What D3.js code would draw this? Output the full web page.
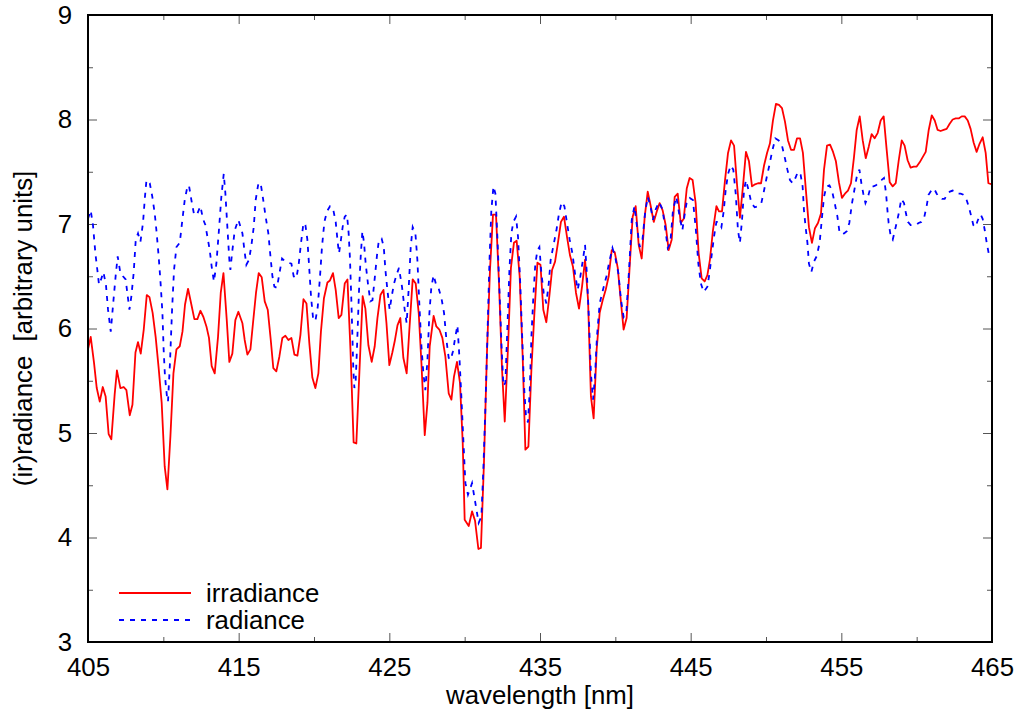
<!DOCTYPE html>
<html>
<head>
<meta charset="utf-8">
<script src="https://cdn.jsdelivr.net/npm/d3@7"></script>
<style>
  body { margin: 0; background: #fff; }
  text { font-family: "Liberation Sans", Arial, Helvetica, sans-serif; }
</style>
</head>
<body>
<script>
// wavelengths (nm) and values
var irrWl = [405.00,405.18,405.40,405.58,405.78,405.98,406.17,406.37,406.55,406.77,406.92,407.15,407.37,407.55,407.77,407.95,408.15,408.32,408.50,408.70,
  408.90,409.08,409.29,409.49,409.69,409.89,410.09,410.27,410.47,410.67,410.87,411.09,411.27,411.44,411.64,411.86,412.06,412.26,412.46,412.66,
  412.86,413.03,413.21,413.41,413.63,413.81,413.99,414.21,414.38,414.58,414.78,414.98,415.25,415.40,415.58,415.78,415.95,416.15,416.33,416.53,
  416.73,416.93,417.13,417.30,417.50,417.70,417.90,418.10,418.30,418.50,418.70,418.90,419.10,419.30,419.50,419.69,419.89,420.09,420.29,420.46,
  420.66,420.89,421.06,421.26,421.44,421.64,421.82,422.04,422.22,422.42,422.63,422.81,423.03,423.23,423.41,423.61,423.83,424.03,424.21,424.41,
  424.61,424.81,425.00,425.20,425.36,425.54,425.73,425.93,426.15,426.33,426.55,426.75,426.95,427.13,427.35,427.53,427.68,427.94,428.12,428.32,
  428.52,428.72,428.94,429.12,429.29,429.49,429.69,429.87,430.00,430.27,430.49,430.69,430.91,431.08,431.28,431.48,431.68,431.88,432.08,432.28,
  432.48,432.66,432.88,433.07,433.27,433.45,433.65,433.85,434.03,434.23,434.43,434.63,434.83,435.03,435.22,435.42,435.62,435.80,436.00,436.19,
  436.39,436.59,436.79,436.99,437.19,437.39,437.59,437.79,437.99,438.19,438.38,438.56,438.76,438.96,439.16,439.36,439.56,439.76,439.96,440.16,
  440.36,440.55,440.75,440.95,441.15,441.35,441.55,441.75,441.95,442.15,442.35,442.55,442.75,442.94,443.14,443.34,443.54,443.74,443.94,444.14,
  444.34,444.54,444.74,444.93,445.13,445.33,445.53,445.73,445.93,446.11,446.28,446.48,446.71,446.88,447.08,447.28,447.48,447.68,447.88,448.07,
  448.27,448.47,448.67,448.87,449.07,449.27,449.47,449.67,449.87,450.07,450.26,450.46,450.66,450.86,451.06,451.26,451.46,451.66,451.86,452.06,
  452.26,452.45,452.65,452.85,453.05,453.25,453.45,453.65,453.85,454.05,454.25,454.45,454.64,454.84,455.04,455.24,455.44,455.64,455.84,456.02,
  456.22,456.42,456.62,456.82,457.01,457.21,457.41,457.61,457.81,458.01,458.21,458.41,458.61,458.81,459.01,459.20,459.40,459.60,459.80,460.00,
  460.20,460.40,460.60,460.80,461.00,461.20,461.39,461.59,461.79,461.99,462.19,462.39,462.59,462.79,462.99,463.19,463.39,463.58,463.78,463.98,
  464.18,464.38,464.58,464.76,465.00];
var irrVal = [5.80,5.92,5.67,5.43,5.30,5.44,5.35,4.99,4.94,5.37,5.60,5.43,5.44,5.41,5.17,5.27,5.77,5.87,5.76,5.99,
  6.32,6.30,6.15,5.92,5.62,5.29,4.68,4.46,4.97,5.57,5.80,5.83,5.97,6.23,6.38,6.23,6.09,6.09,6.17,6.11,
  6.02,5.91,5.64,5.57,5.92,6.34,6.53,6.08,5.68,5.76,6.08,6.16,6.05,5.89,5.75,5.80,6.05,6.34,6.53,6.49,
  6.26,6.18,5.89,5.62,5.59,5.73,5.91,5.93,5.89,5.91,5.75,5.74,5.94,6.28,6.24,5.86,5.53,5.43,5.57,5.97,
  6.29,6.44,6.46,6.53,6.37,6.10,6.13,6.43,6.47,5.80,4.91,4.90,5.64,6.31,6.19,5.84,5.68,5.83,6.10,6.32,
  6.37,6.05,5.65,5.77,5.88,6.03,6.10,5.72,5.57,5.99,6.47,6.43,6.15,5.67,4.98,5.29,5.83,6.12,6.02,5.99,
  5.91,5.73,5.38,5.32,5.54,5.68,5.48,4.91,4.17,4.11,4.25,4.16,3.89,3.90,4.71,5.77,6.56,7.09,7.09,6.43,
  5.61,5.11,5.83,6.58,6.82,6.84,6.50,5.73,4.84,4.87,5.61,6.15,6.63,6.61,6.18,6.06,6.31,6.56,6.64,6.82,
  7.02,7.07,6.88,6.70,6.59,6.34,6.19,6.40,6.66,6.27,5.35,5.14,5.80,6.15,6.27,6.37,6.50,6.75,6.73,6.58,
  6.27,5.99,6.10,6.59,7.07,7.17,6.80,6.67,7.07,7.31,7.17,7.02,7.12,7.20,7.13,6.99,6.75,6.85,7.26,7.29,
  7.01,7.05,7.34,7.44,7.42,7.20,6.72,6.48,6.45,6.51,6.66,6.94,7.17,7.12,7.12,7.42,7.68,7.80,7.75,7.39,
  7.06,7.36,7.69,7.60,7.36,7.38,7.39,7.39,7.56,7.68,7.77,7.99,8.15,8.14,8.11,7.98,7.80,7.71,7.71,7.82,
  7.82,7.68,7.32,6.97,6.82,6.96,7.01,7.10,7.52,7.75,7.76,7.69,7.60,7.40,7.25,7.29,7.32,7.39,7.64,7.90,
  8.03,7.80,7.63,7.74,7.86,7.82,7.87,7.99,8.03,7.71,7.40,7.36,7.39,7.61,7.80,7.75,7.61,7.54,7.55,7.55,
  7.59,7.64,7.69,7.90,8.04,7.99,7.90,7.89,7.90,7.91,7.96,8.00,8.01,8.01,8.03,8.03,7.99,7.91,7.78,7.69,
  7.77,7.83,7.68,7.39,7.38];

var radWl = [405.00,405.18,405.33,405.49,405.62,405.73,405.89,406.02,406.19,406.33,406.51,406.69,406.84,406.97,407.15,407.32,407.50,407.61,407.75,407.88,
  408.03,408.17,408.32,408.48,408.65,408.78,408.88,409.10,409.27,409.43,409.54,409.69,409.82,409.94,410.02,410.11,410.24,410.31,410.44,410.58,
  410.71,410.87,411.09,411.24,411.42,411.60,411.70,411.86,412.04,412.23,412.46,412.63,412.79,412.96,413.08,413.21,413.36,413.52,413.69,413.85,
  414.01,414.12,414.25,414.38,414.45,414.56,414.74,414.98,415.25,415.38,415.51,415.69,415.85,416.00,416.13,416.31,416.46,416.61,416.79,416.97,
  417.11,417.24,417.37,417.54,417.72,417.88,418.10,418.30,418.50,418.65,418.83,418.98,419.14,419.30,419.43,419.56,419.67,419.80,419.93,420.09,
  420.25,420.40,420.53,420.69,420.86,421.06,421.26,421.44,421.57,421.66,421.79,421.92,422.04,422.19,422.30,422.39,422.48,422.55,422.61,422.68,
  422.77,422.85,422.99,423.10,423.21,423.32,423.43,423.58,423.74,423.88,424.03,424.18,424.31,424.49,424.63,424.74,424.87,425.02,425.16,425.31,
  425.47,425.64,425.84,426.02,426.15,426.28,426.42,426.55,426.73,426.86,426.99,427.13,427.26,427.39,427.53,427.66,427.79,427.94,428.10,428.26,
  428.46,428.63,428.79,428.94,429.07,429.22,429.38,429.52,429.65,429.78,429.92,430.05,430.22,430.49,430.71,430.93,431.11,431.24,431.37,431.51,
  431.64,431.77,431.91,432.04,432.17,432.30,432.44,432.57,432.70,432.84,432.97,433.10,433.23,433.41,433.54,433.67,433.80,433.94,434.07,434.20,
  434.32,434.43,434.56,434.69,434.83,434.96,435.09,435.25,435.42,435.58,435.71,435.86,436.09,436.26,436.44,436.62,436.79,436.97,437.15,437.32,
  437.50,437.68,437.85,437.99,438.12,438.25,438.38,438.52,438.65,438.78,438.96,439.18,439.41,439.63,439.81,439.98,440.20,440.38,440.55,440.73,
  440.91,441.09,441.27,441.44,441.62,441.80,441.97,442.15,442.33,442.50,442.68,442.90,443.13,443.30,443.48,443.65,443.83,444.05,444.27,444.45,
  444.58,444.76,444.93,445.15,445.33,445.51,445.68,445.86,446.11,446.26,446.41,446.55,446.71,446.86,447.04,447.19,447.32,447.48,447.66,447.83,
  447.99,448.14,448.27,448.41,448.54,448.67,448.85,449.03,449.25,449.47,449.69,449.87,450.05,450.22,450.40,450.62,450.84,451.06,451.24,451.42,
  451.59,451.77,451.95,452.12,452.30,452.43,452.52,452.63,452.75,452.85,453.01,453.18,453.36,453.56,453.72,453.85,454.01,454.21,454.38,454.56,
  454.74,454.87,455.00,455.18,455.36,455.53,455.71,456.02,456.20,456.33,456.46,456.60,456.77,456.95,457.13,457.30,457.48,457.66,457.83,457.97,
  458.06,458.14,458.28,458.41,458.54,458.67,458.81,458.98,459.16,459.29,459.42,459.60,459.78,459.95,460.13,460.31,460.48,460.66,460.79,460.97,
  461.15,461.33,461.51,461.68,461.86,462.04,462.21,462.39,462.57,462.74,462.92,463.10,463.27,463.45,463.63,463.76,463.90,464.07,464.25,464.38,
  464.52,464.65,464.78,465.00];
var radVal = [7.05,7.13,6.99,6.72,6.56,6.42,6.48,6.54,6.42,6.18,5.97,6.27,6.51,6.69,6.53,6.50,6.47,6.34,6.18,6.31,
  6.53,6.85,6.91,6.83,7.01,7.26,7.42,7.39,7.26,7.10,6.94,6.69,6.43,6.15,5.80,5.54,5.35,5.30,5.67,6.18,
  6.56,6.78,6.82,7.01,7.23,7.36,7.37,7.23,7.09,7.09,7.17,7.05,6.99,6.85,6.75,6.59,6.45,6.62,6.94,7.26,
  7.48,7.29,6.97,6.66,6.56,6.72,6.94,7.04,6.91,6.75,6.61,6.66,6.80,6.97,7.23,7.39,7.39,7.25,7.07,6.91,
  6.69,6.50,6.40,6.39,6.54,6.67,6.64,6.63,6.62,6.50,6.48,6.61,6.82,7.01,6.99,6.85,6.61,6.31,6.11,6.07,
  6.21,6.50,6.78,7.02,7.12,7.17,7.15,7.02,6.83,6.72,6.85,6.99,7.07,7.09,6.91,6.66,6.27,5.92,5.61,5.43,
  5.51,5.80,6.37,6.69,6.93,6.82,6.62,6.43,6.26,6.27,6.48,6.70,6.85,6.86,6.78,6.56,6.37,6.18,6.31,6.43,
  6.51,6.58,6.40,6.18,6.05,6.37,6.78,6.97,6.91,6.66,6.24,5.83,5.57,5.41,5.70,6.15,6.40,6.51,6.42,6.39,
  6.29,6.15,5.89,5.72,5.70,5.78,5.92,6.03,5.73,5.35,4.91,4.52,4.41,4.52,4.33,4.14,4.20,4.65,5.22,5.92,
  6.62,7.13,7.36,7.29,6.88,6.40,5.86,5.45,5.48,6.02,6.56,6.91,7.02,7.07,6.88,6.50,5.99,5.45,5.16,5.10,
  5.41,5.92,6.31,6.62,6.75,6.78,6.53,6.34,6.24,6.43,6.66,6.77,6.94,7.10,7.21,7.17,7.01,6.85,6.72,6.53,
  6.37,6.50,6.66,6.80,6.50,6.08,5.57,5.32,5.54,5.92,6.24,6.37,6.50,6.66,6.77,6.69,6.53,6.27,6.11,6.15,
  6.56,7.04,7.17,6.97,6.78,6.85,7.10,7.26,7.17,7.04,7.14,7.21,7.14,6.97,6.77,6.82,7.14,7.26,7.07,6.94,
  7.07,7.23,7.25,7.23,6.97,6.62,6.43,6.35,6.40,6.54,6.72,6.88,7.02,7.02,6.97,7.12,7.32,7.48,7.56,7.52,
  7.29,6.94,6.82,7.04,7.32,7.42,7.32,7.20,7.16,7.17,7.20,7.32,7.45,7.56,7.69,7.82,7.80,7.75,7.64,7.52,
  7.42,7.39,7.44,7.50,7.47,7.36,7.13,6.97,6.82,6.62,6.54,6.64,6.69,6.82,7.07,7.26,7.36,7.37,7.32,7.20,
  7.07,6.93,6.90,6.91,6.93,7.01,7.20,7.45,7.52,7.39,7.29,7.20,7.26,7.36,7.36,7.37,7.40,7.42,7.44,7.29,
  7.13,7.01,6.88,6.85,6.93,7.01,7.10,7.24,7.20,7.10,7.02,6.99,6.99,6.99,7.01,7.02,7.05,7.17,7.28,7.32,
  7.34,7.29,7.25,7.24,7.24,7.29,7.31,7.32,7.31,7.29,7.29,7.28,7.25,7.17,7.07,6.99,6.97,7.04,7.09,7.05,
  6.94,6.82,6.72,6.71];

var xMajor = [405, 415, 425, 435, 445, 455, 465];
var xMinor = [410, 420, 430, 440, 450, 460];
var yMajor = [3, 4, 5, 6, 7, 8, 9];
var yMinor = [3.5, 4.5, 5.5, 6.5, 7.5, 8.5];
var seriesNames = ["irradiance", "radiance"];

var W = 1019, H = 713;
var margin = {top: 15, right: 27, bottom: 71, left: 88};
var width = W - margin.left - margin.right;
var height = H - margin.top - margin.bottom;
var fontSize = 25.8;

var x = d3.scaleLinear().domain([405, 465]).range([0, width]);
var y = d3.scaleLinear().domain([3, 9]).range([height, 0]);

var svg = d3.select("body").append("svg")
    .attr("width", W)
    .attr("height", H);

var g = svg.append("g")
    .attr("transform", "translate(" + margin.left + "," + margin.top + ")");

function styleAxis(sel) {
  sel.select(".domain").remove();
  sel.selectAll("line").attr("stroke", "#555").attr("stroke-width", 1);
  sel.selectAll("text").attr("font-size", fontSize).attr("fill", "#000")
     .attr("font-family", "'Liberation Sans', Arial, sans-serif");
}

// bottom + top
g.append("g").attr("transform", "translate(0," + height + ")")
  .call(d3.axisBottom(x).tickValues(xMajor).tickSize(-9).tickPadding(16).tickFormat(d3.format("d")))
  .call(styleAxis);
g.append("g").attr("transform", "translate(0," + height + ")")
  .call(d3.axisBottom(x).tickValues(xMinor).tickSize(-5).tickFormat(""))
  .call(styleAxis);
g.append("g")
  .call(d3.axisTop(x).tickValues(xMajor).tickSize(-9).tickFormat(""))
  .call(styleAxis);
g.append("g")
  .call(d3.axisTop(x).tickValues(xMinor).tickSize(-5).tickFormat(""))
  .call(styleAxis);

// left + right
g.append("g")
  .call(d3.axisLeft(y).tickValues(yMajor).tickSize(-9).tickPadding(16).tickFormat(d3.format("d")))
  .call(styleAxis);
g.append("g")
  .call(d3.axisLeft(y).tickValues(yMinor).tickSize(-5).tickFormat(""))
  .call(styleAxis);
g.append("g").attr("transform", "translate(" + width + ",0)")
  .call(d3.axisRight(y).tickValues(yMajor).tickSize(-9).tickFormat(""))
  .call(styleAxis);
g.append("g").attr("transform", "translate(" + width + ",0)")
  .call(d3.axisRight(y).tickValues(yMinor).tickSize(-5).tickFormat(""))
  .call(styleAxis);

// data lines
var line = d3.line()
    .x(function(d){ return x(d[0]); })
    .y(function(d){ return y(d[1]); });

g.append("path")
  .datum(d3.zip(irrWl, irrVal))
  .attr("d", line)
  .attr("fill", "none")
  .attr("stroke", "#ff0000")
  .attr("stroke-width", 1.8)
  .attr("stroke-linejoin", "round");

g.append("path")
  .datum(d3.zip(radWl, radVal))
  .attr("d", line)
  .attr("fill", "none")
  .attr("stroke", "#0000ff")
  .attr("stroke-width", 1.8)
  .attr("stroke-dasharray", "5,6");

// frame
g.append("rect")
  .attr("width", width)
  .attr("height", height)
  .attr("fill", "none")
  .attr("stroke", "#000")
  .attr("stroke-width", 2);

// legend
var legend = g.append("g").attr("transform", "translate(31," + (height - 49) + ")");
var styles = [{c: "#ff0000", dash: null}, {c: "#0000ff", dash: "5,6"}];
seriesNames.forEach(function(name, i){
  var row = legend.append("g").attr("transform", "translate(0," + (i * 27) + ")");
  row.append("line")
    .attr("x1", 0).attr("x2", 72).attr("y1", 0).attr("y2", 0)
    .attr("stroke", styles[i].c).attr("stroke-width", 1.8)
    .attr("stroke-dasharray", styles[i].dash);
  row.append("text")
    .attr("x", 87).attr("y", 9)
    .attr("font-size", fontSize)
    .text(name);
});

// axis titles
svg.append("text")
  .attr("x", margin.left + width / 2)
  .attr("y", 704)
  .attr("text-anchor", "middle")
  .attr("font-size", fontSize)
  .text("wavelength [nm]");

svg.append("text")
  .attr("transform", "translate(32," + (margin.top + height / 2) + ") rotate(-90)")
  .attr("text-anchor", "middle")
  .attr("font-size", fontSize)
  .style("white-space", "pre")
  .text("(ir)radiance  [arbitrary units]");
</script>
</body>
</html>
